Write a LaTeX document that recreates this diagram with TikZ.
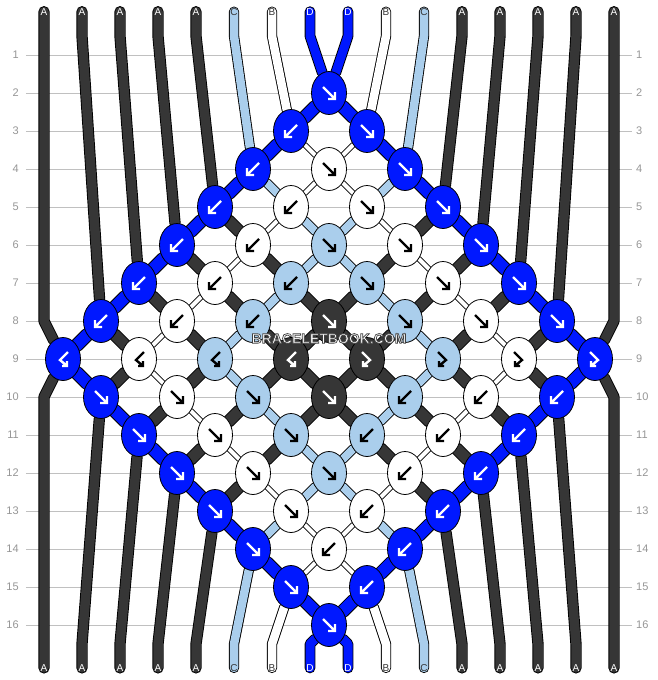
\documentclass[tikz,border=0pt]{standalone}
\usepackage{fontspec}
\setmainfont{Liberation Sans}
\usetikzlibrary{shapes.geometric}

\definecolor{thrA}{RGB}{54,54,54}
\definecolor{thrC}{RGB}{170,206,236}
\definecolor{thrD}{RGB}{0,24,255}
\definecolor{gridgray}{RGB}{192,192,192}
\definecolor{numgray}{RGB}{150,150,150}

\pgfdeclarelayer{back}
\pgfsetlayers{back,main}

\tikzset{
  knot/.style={ellipse, draw=black, line width=0.8pt, minimum width=35pt,
    minimum height=43pt, inner sep=0pt},
  kA/.style={knot, fill=thrA},
  kB/.style={knot, fill=white},
  kC/.style={knot, fill=thrC},
  kD/.style={knot, fill=thrD},
  thread/.style={draw=black, line width=0.9pt, line join=round, line cap=round},
  endA/.style={thread, double=thrA, double distance=9.5pt},
  endB/.style={thread, double=white, double distance=8.5pt},
  endC/.style={thread, double=thrC, double distance=8.5pt},
  endD/.style={thread, double=thrD, double distance=9pt},
  linkA/.style={thread, double=thrA, double distance=11pt},
  linkB/.style={thread, double=white, double distance=4pt},
  linkC/.style={thread, double=thrC, double distance=8pt},
  linkD/.style={thread, double=thrD, double distance=12pt},
  fw/.pic={\draw[x=1pt,y=-1pt,line width=2.4pt] (-6,-6) -- (6,6) (6,-1) -- (6,6) -- (-1,6);},
  bw/.pic={\draw[x=1pt,y=-1pt,line width=2.4pt] (6,-6) -- (-6,6) (-6,-1) -- (-6,6) -- (1,6);},
  fb/.pic={\draw[x=1pt,y=-1pt,line width=2.4pt] (-5,-7) -- (3,1) -- (-4,7) (-4,2) -- (-4,7) -- (1,7);},
  bf/.pic={\draw[x=1pt,y=-1pt,line width=2.4pt] (5,-7) -- (-3,1) -- (4,7) (4,2) -- (4,7) -- (-1,7);},
  tlab/.style={font=\fontsize{10}{10}\selectfont, inner sep=0pt},
  rowno/.style={font=\fontsize{11}{11}\selectfont, text=numgray, inner sep=0pt},
  gridline/.style={draw=gridgray, line width=0.8pt},
  marktext/.style={font=\bfseries\fontsize{14}{14}\selectfont, inner sep=0pt}
}

% outlined text: fill white, stroke dark grey
\newcommand{\outlined}[1]{\special{pdf:literal direct 2 Tr 0.7 w 0.25 0.25 0.25 RG}#1\special{pdf:literal direct 0 Tr}}

\begin{document}
\begin{tikzpicture}[x=38pt,y=-38pt]
  \useasboundingbox (-1.1579,-0.4474) rectangle (16.1579,17.4474);

  % row numbers
  \foreach \r in {1,...,16} {
    \node[rowno, anchor=east] (rl\r) at (-0.66,\r) {\r};
    \node[rowno, anchor=west] (rr\r) at (15.58,\r) {\r};
  }

  % string ends
  \foreach \p/\c/\fg in {0/A/white,1/A/white,2/A/white,3/A/white,4/A/white,
      5/C/thrA,6/B/thrA,7/D/white,8/D/white,9/B/thrA,10/C/thrA,
      11/A/white,12/A/white,13/A/white,14/A/white,15/A/white} {
    \node[tlab, text=\fg] (top\p) at (\p,-0.14) {\c};
    \node[tlab, text=\fg] (bot\p) at (\p,17.13) {\c};
    \coordinate (s\p) at (\p,0.5);
    \coordinate (f\p) at (\p,16.5);
  }
  \coordinate (w8) at (0,8);
  \coordinate (w10) at (0,10);
  \coordinate (v8) at (15,8);
  \coordinate (v10) at (15,10);

  % knots
  \node[kD] (k2-7) at (7.5,2) {}; \pic[white] at (k2-7) {fw};

  \node[kD] (k3-6) at (6.5,3) {}; \pic[white] at (k3-6) {bw};
  \node[kD] (k3-8) at (8.5,3) {}; \pic[white] at (k3-8) {fw};

  \node[kD] (k4-5) at (5.5,4) {}; \pic[white] at (k4-5) {bw};
  \node[kB] (k4-7) at (7.5,4) {}; \pic[black] at (k4-7) {fw};
  \node[kD] (k4-9) at (9.5,4) {}; \pic[white] at (k4-9) {fw};

  \node[kD] (k5-4) at (4.5,5) {}; \pic[white] at (k5-4) {bw};
  \node[kB] (k5-6) at (6.5,5) {}; \pic[black] at (k5-6) {bw};
  \node[kB] (k5-8) at (8.5,5) {}; \pic[black] at (k5-8) {fw};
  \node[kD] (k5-10) at (10.5,5) {}; \pic[white] at (k5-10) {fw};

  \node[kD] (k6-3) at (3.5,6) {}; \pic[white] at (k6-3) {bw};
  \node[kB] (k6-5) at (5.5,6) {}; \pic[black] at (k6-5) {bw};
  \node[kC] (k6-7) at (7.5,6) {}; \pic[black] at (k6-7) {fw};
  \node[kB] (k6-9) at (9.5,6) {}; \pic[black] at (k6-9) {fw};
  \node[kD] (k6-11) at (11.5,6) {}; \pic[white] at (k6-11) {fw};

  \node[kD] (k7-2) at (2.5,7) {}; \pic[white] at (k7-2) {bw};
  \node[kB] (k7-4) at (4.5,7) {}; \pic[black] at (k7-4) {bw};
  \node[kC] (k7-6) at (6.5,7) {}; \pic[black] at (k7-6) {bw};
  \node[kC] (k7-8) at (8.5,7) {}; \pic[black] at (k7-8) {fw};
  \node[kB] (k7-10) at (10.5,7) {}; \pic[black] at (k7-10) {fw};
  \node[kD] (k7-12) at (12.5,7) {}; \pic[white] at (k7-12) {fw};

  \node[kD] (k8-1) at (1.5,8) {}; \pic[white] at (k8-1) {bw};
  \node[kB] (k8-3) at (3.5,8) {}; \pic[black] at (k8-3) {bw};
  \node[kC] (k8-5) at (5.5,8) {}; \pic[black] at (k8-5) {bw};
  \node[kA] (k8-7) at (7.5,8) {}; \pic[white] at (k8-7) {fw};
  \node[kC] (k8-9) at (9.5,8) {}; \pic[black] at (k8-9) {fw};
  \node[kB] (k8-11) at (11.5,8) {}; \pic[black] at (k8-11) {fw};
  \node[kD] (k8-13) at (13.5,8) {}; \pic[white] at (k8-13) {fw};

  \node[kD] (k9-0) at (0.5,9) {}; \pic[white] at (k9-0) {bf};
  \node[kB] (k9-2) at (2.5,9) {}; \pic[black] at (k9-2) {bf};
  \node[kC] (k9-4) at (4.5,9) {}; \pic[black] at (k9-4) {bf};
  \node[kA] (k9-6) at (6.5,9) {}; \pic[white] at (k9-6) {bf};
  \node[kA] (k9-8) at (8.5,9) {}; \pic[white] at (k9-8) {fb};
  \node[kC] (k9-10) at (10.5,9) {}; \pic[black] at (k9-10) {fb};
  \node[kB] (k9-12) at (12.5,9) {}; \pic[black] at (k9-12) {fb};
  \node[kD] (k9-14) at (14.5,9) {}; \pic[white] at (k9-14) {fb};

  \node[kD] (k10-1) at (1.5,10) {}; \pic[white] at (k10-1) {fw};
  \node[kB] (k10-3) at (3.5,10) {}; \pic[black] at (k10-3) {fw};
  \node[kC] (k10-5) at (5.5,10) {}; \pic[black] at (k10-5) {fw};
  \node[kA] (k10-7) at (7.5,10) {}; \pic[white] at (k10-7) {fw};
  \node[kC] (k10-9) at (9.5,10) {}; \pic[black] at (k10-9) {bw};
  \node[kB] (k10-11) at (11.5,10) {}; \pic[black] at (k10-11) {bw};
  \node[kD] (k10-13) at (13.5,10) {}; \pic[white] at (k10-13) {bw};

  \node[kD] (k11-2) at (2.5,11) {}; \pic[white] at (k11-2) {fw};
  \node[kB] (k11-4) at (4.5,11) {}; \pic[black] at (k11-4) {fw};
  \node[kC] (k11-6) at (6.5,11) {}; \pic[black] at (k11-6) {fw};
  \node[kC] (k11-8) at (8.5,11) {}; \pic[black] at (k11-8) {bw};
  \node[kB] (k11-10) at (10.5,11) {}; \pic[black] at (k11-10) {bw};
  \node[kD] (k11-12) at (12.5,11) {}; \pic[white] at (k11-12) {bw};

  \node[kD] (k12-3) at (3.5,12) {}; \pic[white] at (k12-3) {fw};
  \node[kB] (k12-5) at (5.5,12) {}; \pic[black] at (k12-5) {fw};
  \node[kC] (k12-7) at (7.5,12) {}; \pic[black] at (k12-7) {fw};
  \node[kB] (k12-9) at (9.5,12) {}; \pic[black] at (k12-9) {bw};
  \node[kD] (k12-11) at (11.5,12) {}; \pic[white] at (k12-11) {bw};

  \node[kD] (k13-4) at (4.5,13) {}; \pic[white] at (k13-4) {fw};
  \node[kB] (k13-6) at (6.5,13) {}; \pic[black] at (k13-6) {fw};
  \node[kB] (k13-8) at (8.5,13) {}; \pic[black] at (k13-8) {bw};
  \node[kD] (k13-10) at (10.5,13) {}; \pic[white] at (k13-10) {bw};

  \node[kD] (k14-5) at (5.5,14) {}; \pic[white] at (k14-5) {fw};
  \node[kB] (k14-7) at (7.5,14) {}; \pic[black] at (k14-7) {bw};
  \node[kD] (k14-9) at (9.5,14) {}; \pic[white] at (k14-9) {bw};

  \node[kD] (k15-6) at (6.5,15) {}; \pic[white] at (k15-6) {fw};
  \node[kD] (k15-8) at (8.5,15) {}; \pic[white] at (k15-8) {bw};

  \node[kD] (k16-7) at (7.5,16) {}; \pic[white] at (k16-7) {fw};

  \begin{pgfonlayer}{back}
    \fill[white] (-1.1579,-0.4474) rectangle (16.1579,17.4474);
    \foreach \r in {1,...,16}
      \draw[gridline] (-0.474,\r) -- (15.474,\r);

    % outer A strings
    \draw[endA] (top0.center) -- (w8) -- (k9-0) -- (w10) -- (bot0.center);
    \draw[endA] (top15.center) -- (v8) -- (k9-14) -- (v10) -- (bot15.center);

    \draw[endA] (top1.center) -- (s1) -- (k8-1);
    \draw[linkA] (k8-1) -- (k9-2) -- (k10-1);
    \draw[endA] (k10-1) -- (f1) -- (bot1.center);

    \draw[endA] (top2.center) -- (s2) -- (k7-2);
    \draw[linkA] (k7-2) -- (k8-3) -- (k9-4) -- (k10-3) -- (k11-2);
    \draw[endA] (k11-2) -- (f2) -- (bot2.center);

    \draw[endA] (top3.center) -- (s3) -- (k6-3);
    \draw[linkA] (k6-3) -- (k7-4) -- (k8-5) -- (k9-6) -- (k10-5) -- (k11-4) -- (k12-3);
    \draw[endA] (k12-3) -- (f3) -- (bot3.center);

    \draw[endA] (top4.center) -- (s4) -- (k5-4);
    \draw[linkA] (k5-4) -- (k6-5) -- (k7-6) -- (k8-7) -- (k9-8) -- (k10-7) -- (k11-6) -- (k12-5) -- (k13-4);
    \draw[endA] (k13-4) -- (f4) -- (bot4.center);

    \draw[endA] (top14.center) -- (s14) -- (k8-13);
    \draw[linkA] (k8-13) -- (k9-12) -- (k10-13);
    \draw[endA] (k10-13) -- (f14) -- (bot14.center);

    \draw[endA] (top13.center) -- (s13) -- (k7-12);
    \draw[linkA] (k7-12) -- (k8-11) -- (k9-10) -- (k10-11) -- (k11-12);
    \draw[endA] (k11-12) -- (f13) -- (bot13.center);

    \draw[endA] (top12.center) -- (s12) -- (k6-11);
    \draw[linkA] (k6-11) -- (k7-10) -- (k8-9) -- (k9-8) -- (k10-9) -- (k11-10) -- (k12-11);
    \draw[endA] (k12-11) -- (f12) -- (bot12.center);

    \draw[endA] (top11.center) -- (s11) -- (k5-10);
    \draw[linkA] (k5-10) -- (k6-9) -- (k7-8) -- (k8-7) -- (k9-6) -- (k10-7) -- (k11-8) -- (k12-9) -- (k13-10);
    \draw[endA] (k13-10) -- (f11) -- (bot11.center);

    % C strings
    \draw[endC] (top5.center) -- (s5) -- (k4-5);
    \draw[linkC] (k4-5) -- (k5-6) -- (k6-7) -- (k7-8) -- (k8-9) -- (k9-10) -- (k10-9) -- (k11-8) -- (k12-7) -- (k13-6) -- (k14-5);
    \draw[endC] (k14-5) -- (f5) -- (bot5.center);

    \draw[endC] (top10.center) -- (s10) -- (k4-9);
    \draw[linkC] (k4-9) -- (k5-8) -- (k6-7) -- (k7-6) -- (k8-5) -- (k9-4) -- (k10-5) -- (k11-6) -- (k12-7) -- (k13-8) -- (k14-9);
    \draw[endC] (k14-9) -- (f10) -- (bot10.center);

    % B strings
    \draw[endB] (top6.center) -- (s6) -- (k3-6);
    \draw[linkB] (k3-6) -- (k4-7) -- (k5-8) -- (k6-9) -- (k7-10) -- (k8-11) -- (k9-12) -- (k10-11) -- (k11-10) -- (k12-9) -- (k13-8) -- (k14-7) -- (k15-6);
    \draw[endB] (k15-6) -- (f6) -- (bot6.center);

    \draw[endB] (top9.center) -- (s9) -- (k3-8);
    \draw[linkB] (k3-8) -- (k4-7) -- (k5-6) -- (k6-5) -- (k7-4) -- (k8-3) -- (k9-2) -- (k10-3) -- (k11-4) -- (k12-5) -- (k13-6) -- (k14-7) -- (k15-8);
    \draw[endB] (k15-8) -- (f9) -- (bot9.center);

    % D strings
    \draw[endD] (top7.center) -- (s7) -- (k2-7);
    \draw[linkD] (k2-7) -- (k3-8) -- (k4-9) -- (k5-10) -- (k6-11) -- (k7-12) -- (k8-13) -- (k9-14) -- (k10-13) -- (k11-12) -- (k12-11) -- (k13-10) -- (k14-9) -- (k15-8) -- (k16-7);
    \draw[endD] (k16-7) -- (f7) -- (bot7.center);

    \draw[endD] (top8.center) -- (s8) -- (k2-7);
    \draw[linkD] (k2-7) -- (k3-6) -- (k4-5) -- (k5-4) -- (k6-3) -- (k7-2) -- (k8-1) -- (k9-0) -- (k10-1) -- (k11-2) -- (k12-3) -- (k13-4) -- (k14-5) -- (k15-6) -- (k16-7);
    \draw[endD] (k16-7) -- (f8) -- (bot8.center);
  \end{pgfonlayer}

  % watermark
  \node[marktext, text=white] (wmtext) at (7.5,8.46) {\outlined{BRACELETBOOK.COM}};
\end{tikzpicture}
\end{document}
